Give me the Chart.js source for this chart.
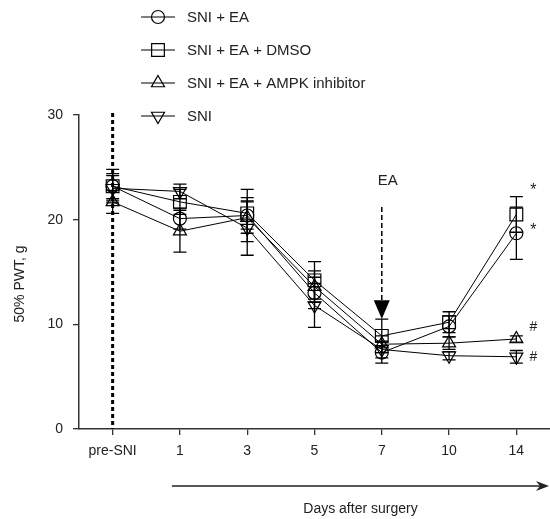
<!DOCTYPE html>
<html>
<head>
<meta charset="utf-8">
<script src="https://cdn.jsdelivr.net/npm/chart.js@4/dist/chart.umd.min.js"></script>
<style>
  html, body { margin: 0; padding: 0; background: #fff; }
  #wrap { width: 550px; height: 519px; }
</style>
</head>
<body>
<div id="wrap"><canvas id="pwt" width="550" height="519"></canvas></div>
<script>
// Time points
const labels = ['pre-SNI', '1', '3', '5', '7', '10', '14'];

// 50% PWT (g), mean values per group
const sniEa     = [23.2, 20.1, 20.4, 13.0, 7.3, 9.8, 18.7];
const sniEaDmso = [23.2, 21.7, 20.6, 14.2, 8.9, 10.2, 20.5];
const sniEaAmpk = [21.7, 18.9, 20.2, 13.6, 8.1, 8.2, 8.6];
const sni       = [23.0, 22.7, 19.2, 11.8, 7.6, 7.0, 6.9];

// error bar half-lengths
const sniEaErr     = [1.2, 1.0, 2.5, 1.5, 1.0, 1.0, 2.5];
const sniEaDmsoErr = [1.6, 1.2, 1.5, 1.8, 1.6, 1.0, 1.7];
const sniEaAmpkErr = [1.1, 2.0, 1.5, 1.5, 0.8, 0.6, 0.3];
const sniErr       = [1.2, 0.7, 2.6, 2.1, 0.8, 0.4, 0.6];

const seriesNames = ['SNI + EA', 'SNI + EA + DMSO', 'SNI + EA + AMPK inhibitor', 'SNI'];

// significance marks next to day 14
const marks = [
  { text: '*', idx: 6, value: 22.8 },
  { text: '*', idx: 6, value: 19.0 },
  { text: '#', idx: 6, value: 9.7 },
  { text: '#', idx: 6, value: 6.9 },
];

const FONT = "'Liberation Sans', Arial, Helvetica, sans-serif";
const INK = '#222';

function ds(label, data, err, style, radius, rotation) {
  return {
    label, data, err,
    borderColor: '#000',
    borderWidth: 1,
    backgroundColor: 'rgba(0,0,0,0)',
    pointStyle: style,
    pointRadius: radius,
    pointRotation: rotation || 0,
    pointBorderColor: '#000',
    pointBorderWidth: 1.2,
    pointBackgroundColor: 'rgba(0,0,0,0)',
    tension: 0,
    fill: false,
    clip: false,
  };
}

// vertical error bars, drawn below markers
const errorBars = {
  id: 'errorBars',
  beforeDatasetsDraw(chart) {
    const { ctx } = chart;
    const y = chart.scales.y;
    ctx.save();
    ctx.strokeStyle = '#000';
    ctx.lineWidth = 1.3;
    chart.data.datasets.forEach((d, i) => {
      const meta = chart.getDatasetMeta(i);
      meta.data.forEach((pt, j) => {
        const e = d.err[j];
        const top = y.getPixelForValue(d.data[j] + e);
        const bot = y.getPixelForValue(d.data[j] - e);
        ctx.beginPath();
        ctx.moveTo(pt.x, top); ctx.lineTo(pt.x, bot);
        ctx.moveTo(pt.x - 6.5, top); ctx.lineTo(pt.x + 6.5, top);
        ctx.moveTo(pt.x - 6.5, bot); ctx.lineTo(pt.x + 6.5, bot);
        ctx.stroke();
      });
    });
    ctx.restore();
  }
};

function markerPath(ctx, style, x, y, r, rot) {
  ctx.beginPath();
  if (style === 'circle') {
    ctx.arc(x, y, r, 0, Math.PI * 2);
  } else if (style === 'rect') {
    const s = r * Math.SQRT1_2;
    ctx.rect(x - s, y - s, 2 * s, 2 * s);
  } else {
    const flip = rot === 180 ? -1 : 1;
    ctx.moveTo(x, y - flip * r);
    ctx.lineTo(x + r * 0.866, y + flip * r * 0.5);
    ctx.lineTo(x - r * 0.866, y + flip * r * 0.5);
    ctx.closePath();
  }
  ctx.stroke();
}

const extras = {
  id: 'extras',
  beforeDatasetsDraw(chart) {
    const { ctx, chartArea } = chart;
    const x = chart.scales.x;
    ctx.save();
    // dotted line at pre-SNI
    const px = x.getPixelForValue(0);
    ctx.strokeStyle = '#000';
    ctx.lineWidth = 3;
    ctx.setLineDash([4, 3]);
    ctx.beginPath();
    ctx.moveTo(px, chartArea.top - 2);
    ctx.lineTo(px, chartArea.bottom);
    ctx.stroke();
    ctx.restore();
  },
  afterDraw(chart) {
    const { ctx, chartArea } = chart;
    const x = chart.scales.x, y = chart.scales.y;
    ctx.save();

    // EA arrow at day 7
    const ax = x.getPixelForValue(4);
    ctx.strokeStyle = '#000';
    ctx.lineWidth = 1.5;
    ctx.setLineDash([5, 3]);
    ctx.beginPath();
    ctx.moveTo(ax, y.getPixelForValue(21.2));
    ctx.lineTo(ax, y.getPixelForValue(12.3));
    ctx.stroke();
    ctx.setLineDash([]);
    const headTop = y.getPixelForValue(12.3), tip = y.getPixelForValue(10.5);
    ctx.fillStyle = '#000';
    ctx.beginPath();
    ctx.moveTo(ax - 8, headTop); ctx.lineTo(ax + 8, headTop); ctx.lineTo(ax, tip);
    ctx.closePath(); ctx.fill();

    ctx.fillStyle = INK;
    ctx.font = '15px ' + FONT;
    ctx.textAlign = 'center';
    ctx.textBaseline = 'middle';
    ctx.fillText('EA', ax + 6, y.getPixelForValue(23.7));

    // significance marks
    marks.forEach(m => {
      ctx.font = (m.text === '*' ? '16px ' : '14px ') + FONT;
      ctx.fillText(m.text, x.getPixelForValue(m.idx) + 17, y.getPixelForValue(m.value));
    });

    // y title
    ctx.save();
    ctx.translate(20, 284);
    ctx.rotate(-Math.PI / 2);
    ctx.font = '14px ' + FONT;
    ctx.fillText('50% PWT, g', 0, 0);
    ctx.restore();

    // days arrow
    const x0 = x.getPixelForValue(1) - 8, x1 = chartArea.right - 1;
    const ay = 486;
    ctx.strokeStyle = '#222';
    ctx.lineWidth = 1.3;
    ctx.beginPath();
    ctx.moveTo(x0, ay); ctx.lineTo(x1 - 6, ay);
    ctx.stroke();
    ctx.fillStyle = '#222';
    ctx.beginPath();
    ctx.moveTo(x1, ay); ctx.lineTo(x1 - 13, ay - 5); ctx.lineTo(x1 - 9, ay); ctx.lineTo(x1 - 13, ay + 5);
    ctx.closePath(); ctx.fill();
    ctx.fillStyle = INK;
    ctx.font = '14px ' + FONT;
    ctx.fillText('Days after surgery', (x0 + x1) / 2, 509);

    // legend
    const rows = [17, 50, 83, 116];
    chart.data.datasets.forEach((d, i) => {
      const ly = rows[i];
      ctx.strokeStyle = '#000';
      ctx.lineWidth = 1.2;
      ctx.beginPath();
      ctx.moveTo(141, ly); ctx.lineTo(175, ly);
      ctx.stroke();
      markerPath(ctx, d.pointStyle, 158, ly, d.pointRadius, d.pointRotation);
      ctx.fillStyle = INK;
      ctx.font = '15px ' + FONT;
      ctx.textAlign = 'left';
      ctx.fillText(seriesNames[i], 187, ly + 1);
    });
    ctx.restore();
  }
};

new Chart(document.getElementById('pwt'), {
  type: 'line',
  data: {
    labels,
    datasets: [
      ds(seriesNames[0], sniEa, sniEaErr, 'circle', 6.5),
      ds(seriesNames[1], sniEaDmso, sniEaDmsoErr, 'rect', 9),
      ds(seriesNames[2], sniEaAmpk, sniEaAmpkErr, 'triangle', 7.5),
      ds(seriesNames[3], sni, sniErr, 'triangle', 7.5, 180),
    ],
  },
  options: {
    responsive: false,
    animation: false,
    layout: { autoPadding: false, padding: { top: 115, right: 0, left: 0, bottom: 0 } },
    plugins: { legend: { display: false }, tooltip: { enabled: false } },
    scales: {
      x: {
        offset: true,
        grid: { display: true, drawOnChartArea: false, drawTicks: true, tickLength: 6, color: '#333', lineWidth: 1.3 },
        border: { display: true, color: '#333', width: 1.5 },
        ticks: { color: INK, font: { family: FONT, size: 14 }, padding: 8, maxRotation: 0 },
        afterFit(s) { s.height = 90; },
      },
      y: {
        min: 0, max: 30,
        grid: { display: true, drawOnChartArea: false, drawTicks: true, tickLength: 6, color: '#333', lineWidth: 1.3 },
        border: { display: true, color: '#333', width: 1.5 },
        ticks: { stepSize: 10, color: INK, font: { family: FONT, size: 14 }, padding: 10 },
        afterFit(s) { s.width = 79; },
      },
    },
  },
  plugins: [errorBars, extras],
});
</script>
</body>
</html>
